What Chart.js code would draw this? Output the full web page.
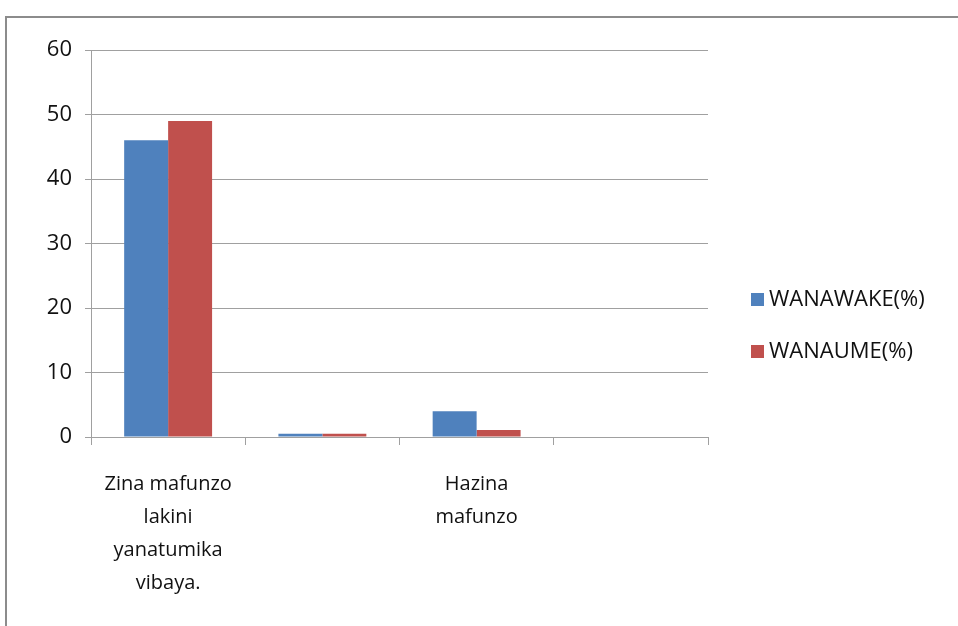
<!DOCTYPE html>
<html>
<head>
<meta charset="utf-8">
<script src="https://cdn.jsdelivr.net/npm/chart.js@4"></script>
<style>
    html, body { margin: 0; padding: 0; background: #fff; overflow: hidden; }
    #wrap { position: relative; width: 958px; height: 626px; }
    #frame {
        position: absolute; left: 5px; top: 16px; width: 1000px; height: 700px;
        border: 2px solid #8c8c8c; box-sizing: border-box;
    }
    canvas { position: absolute; left: 0; top: 0; }
</style>
</head>
<body>
<div id="wrap">
    <div id="frame"></div>
    <canvas id="chart" width="958" height="626"></canvas>
</div>
<script>
// chart data
const categories = [
    ['Zina mafunzo', 'lakini', 'yanatumika', 'vibaya.'],
    '',
    ['Hazina', 'mafunzo'],
    ''
];
const seriesNames = ['WANAWAKE(%)', 'WANAUME(%)'];
const wanawake = [46, 0.5, 4, 0];
const wanaume = [49, 0.5, 1.1, 0];
const yTicks = [0, 10, 20, 30, 40, 50, 60];

const FONT = '"Open Sans", "Liberation Sans", sans-serif';

// legend drawn next to the plot, like the office chart
const sideLegend = {
    id: 'sideLegend',
    afterDraw(chart) {
        const ctx = chart.ctx;
        ctx.save();
        ctx.font = '22px ' + FONT;
        ctx.textBaseline = 'middle';
        chart.data.datasets.forEach((ds, i) => {
            const y = 300 + i * 52;
            ctx.fillStyle = ds.backgroundColor;
            ctx.fillRect(751, y - 7, 13, 13);
            ctx.fillStyle = '#111';
            ctx.fillText(ds.label, 769, y);
        });
        ctx.restore();
    }
};

new Chart(document.getElementById('chart').getContext('2d'), {
    type: 'bar',
    data: {
        labels: categories,
        datasets: [
            { label: seriesNames[0], data: wanawake, backgroundColor: '#4F81BD' },
            { label: seriesNames[1], data: wanaume, backgroundColor: '#C0504D' }
        ]
    },
    options: {
        responsive: false,
        animation: false,
        layout: { padding: { left: 0, right: 250, top: 50, bottom: 0 } },
        datasets: { bar: { categoryPercentage: 0.57, barPercentage: 1.0 } },
        plugins: {
            legend: { display: false },
            tooltip: { enabled: false }
        },
        scales: {
            x: {
                afterFit(scale) { scale.height = 189; },
                grid: { drawOnChartArea: false, drawTicks: true, tickLength: 8, color: '#a0a0a0', offset: true },
                border: { color: '#a0a0a0', width: 1 },
                ticks: {
                    color: '#111',
                    font: { family: FONT, size: 20, lineHeight: 1.65 },
                    padding: 23,
                    maxRotation: 0,
                    autoSkip: false
                }
            },
            y: {
                min: 0,
                max: 60,
                afterFit(scale) { scale.width = 91; },
                afterBuildTicks(scale) { scale.ticks = yTicks.map(v => ({ value: v })); },
                grid: { color: '#a0a0a0', tickLength: 6 },
                border: { color: '#a0a0a0', width: 1 },
                ticks: {
                    color: '#111',
                    font: { family: FONT, size: 22 },
                    padding: 13
                }
            }
        }
    },
    plugins: [sideLegend]
});
</script>
</body>
</html>
